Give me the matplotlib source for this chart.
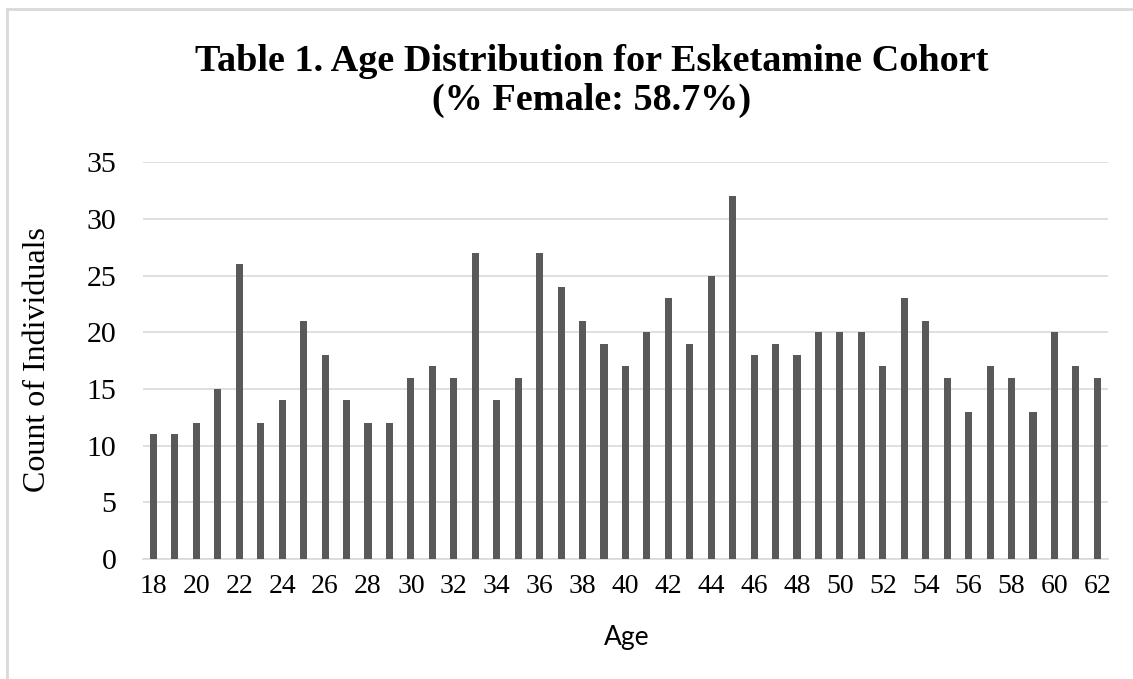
import matplotlib.pyplot as plt
from matplotlib.lines import Line2D

# Data
ages = list(range(18, 63))
counts = [11, 11, 12, 15, 26, 12, 14, 21, 18, 14, 12, 12, 16, 17, 16, 27, 14, 16,
          27, 24, 21, 19, 17, 20, 23, 19, 25, 32, 18, 19, 18, 20, 20, 20, 17, 23,
          21, 16, 13, 17, 16, 13, 20, 17, 16]
tick_ages = list(range(18, 63, 2))
y_ticks = [0, 5, 10, 15, 20, 25, 30, 35]

serif = 'Liberation Serif'
W, H = 1133, 679

fig = plt.figure(figsize=(W / 100, H / 100), dpi=100)
ax = fig.add_axes([0.126, 0.177, 0.852, 0.584])

# light frame (top and left edges only visible)
frame_kw = dict(transform=fig.transFigure, color='#d9d9d9', linewidth=2)
fig.lines.append(Line2D([6.5 / W, 1], [1 - 8.5 / H, 1 - 8.5 / H], **frame_kw))
fig.lines.append(Line2D([6.5 / W, 6.5 / W], [0, 1 - 8.5 / H], **frame_kw))

ax.bar(ages, counts, width=0.33, color='#595959', zorder=3)

ax.set_xlim(17.5, 62.5)
ax.set_ylim(0, 35)
ax.set_yticks(y_ticks)
ax.set_xticks(tick_ages)
ax.set_xticklabels([str(a) for a in tick_ages], fontfamily=serif, fontsize=20)
ax.set_yticklabels([str(v) for v in y_ticks], fontfamily=serif, fontsize=21.5)
ax.tick_params(axis='y', length=0, pad=19)
ax.tick_params(axis='x', length=0, pad=11)

ax.grid(axis='y', color='#d9d9d9', linewidth=1.2, zorder=0)
for side in ['top', 'right', 'left']:
    ax.spines[side].set_visible(False)
ax.spines['bottom'].set_color('#d9d9d9')
ax.spines['bottom'].set_linewidth(1.2)

fig.text(38 / W, 1 - 360 / H, 'Count of Individuals', rotation=90, ha='center', va='center',
         fontfamily=serif, fontsize=23)
fig.text(627 / W, 1 - 637 / H, 'Age', ha='center', va='center', fontfamily='Lato', fontsize=19)

fig.text(592 / W, 1 - 81 / H, 'Table 1. Age Distribution for Esketamine Cohort\n(% Female: 58.7%)',
         ha='center', va='center', fontfamily=serif, fontweight='bold',
         fontsize=27.5, linespacing=1.15)

fig.savefig('out.png', dpi=100)
